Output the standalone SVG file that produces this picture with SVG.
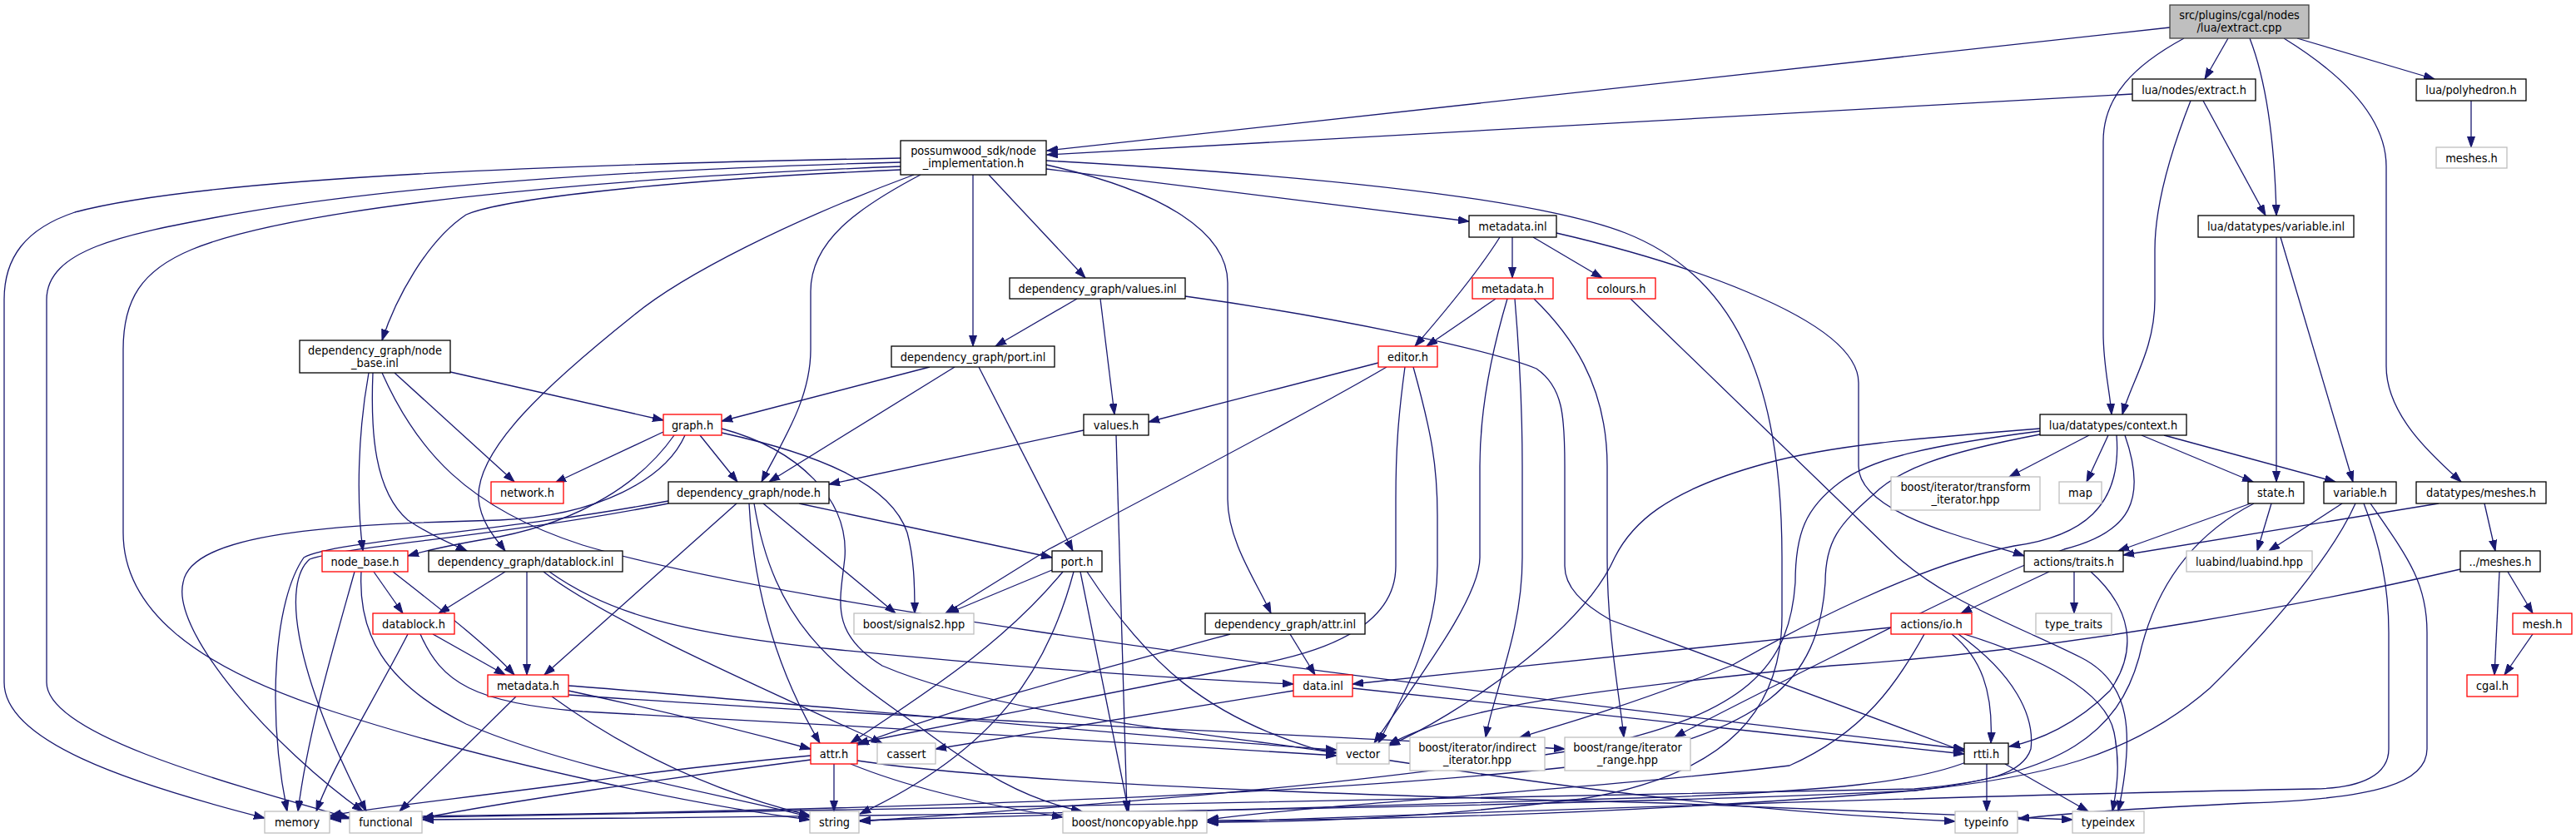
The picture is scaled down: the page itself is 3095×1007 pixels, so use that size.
<svg xmlns="http://www.w3.org/2000/svg" width="3095" height="1007" viewBox="0 0 3095 1007">
<defs>
<style>
.e{fill:none;stroke:#191970;stroke-width:1.3;marker-end:url(#arr)}
rect{fill:#fff;stroke:#000;stroke-width:1.3}
.red rect{stroke:#ff0000}
.ext rect{stroke:#bfbfbf}
.root rect{fill:#bfbfbf;stroke:#404040}
text{font-family:"DejaVu Sans Condensed","DejaVu Sans",sans-serif;font-stretch:condensed;font-size:14.4px;text-anchor:middle;fill:#000}
</style>
<marker id="arr" markerUnits="userSpaceOnUse" markerWidth="14" markerHeight="10" refX="13" refY="5" orient="auto" viewBox="0 0 14 10"><path d="M0,0.5 L13,5 L0,9.5z" fill="#191970" stroke="#191970"/></marker>
</defs>
<rect x="0" y="0" width="3095" height="1007" style="fill:#fff;stroke:none"/>
<g id="edges">
<path class="e" d="M2607,33 L1258,181"/>
<path class="e" d="M2677,46 L2649,95"/>
<path class="e" d="M2703,46 C2722,95 2733,170 2735,259"/>
<path class="e" d="M2624,46 C2565,78 2527,115 2527,170 L2527,400 C2527,440 2535,470 2537,498"/>
<path class="e" d="M2744,46 C2812,88 2867,140 2867,200 L2867,440 C2867,500 2925,550 2957,579"/>
<path class="e" d="M2760,46 L2925,95"/>
<path class="e" d="M2562,113 L1258,186"/>
<path class="e" d="M2632,121 C2605,190 2589,250 2589,300 L2589,360 C2589,420 2560,460 2550,498"/>
<path class="e" d="M2647,121 L2722,259"/>
<path class="e" d="M2969,121 L2969,177"/>
<path class="e" d="M1082,190 C700,197 250,212 90,255 C30,275 5,310 5,360 L5,820 C5,890 150,940 318,983"/>
<path class="e" d="M1082,195 C750,204 450,225 255,262 C150,282 56,300 56,360 L56,820 C56,880 250,935 420,983"/>
<path class="e" d="M1082,200 C700,215 350,250 230,300 C170,325 148,360 148,420 L148,640 C148,730 230,800 400,855 C600,920 850,970 973,985"/>
<path class="e" d="M1082,204 C800,216 600,240 560,258 C512,290 475,360 459,409"/>
<path class="e" d="M1098,210 C950,265 820,330 760,380 C660,460 571,540 575,600 C578,630 598,650 607,662"/>
<path class="e" d="M1106,210 C1030,250 974,290 974,350 L974,420 C974,480 940,530 915,579"/>
<path class="e" d="M1169,210 L1169,416"/>
<path class="e" d="M1188,210 L1304,334"/>
<path class="e" d="M1257,198 C1400,230 1475,280 1475,340 L1475,600 C1475,650 1510,700 1527,737"/>
<path class="e" d="M1257,203 L1765,266"/>
<path class="e" d="M1257,193 C1600,212 1850,240 1953,280 C2080,330 2141,450 2141,670 L2141,740 C2141,850 2080,930 1900,960 C1700,985 1550,988 1450,988"/>
<path class="e" d="M1802,285 C1780,320 1740,370 1700,416"/>
<path class="e" d="M1817,285 L1817,334"/>
<path class="e" d="M1842,285 L1925,334"/>
<path class="e" d="M1870,280 C2000,310 2233,380 2233,460 L2233,560 C2233,620 2380,650 2432,668"/>
<path class="e" d="M2735,285 L2735,579"/>
<path class="e" d="M2740,285 L2827,579"/>
<path class="e" d="M1294,359 L1196,416"/>
<path class="e" d="M1322,359 L1339,498"/>
<path class="e" d="M1424,356 C1600,380 1790,420 1846,443 C1878,465 1880,500 1880,560 L1880,680 C1880,705 1900,725 1935,745 L2360,903"/>
<path class="e" d="M1797,359 L1714,416"/>
<path class="e" d="M1811,359 C1790,430 1778,500 1778,560 L1778,670 C1778,720 1700,820 1651,893"/>
<path class="e" d="M1820,359 C1826,430 1829,500 1829,560 L1829,670 C1829,760 1795,830 1785,886"/>
<path class="e" d="M1843,359 C1885,400 1931,460 1931,560 L1931,670 C1931,760 1945,830 1951,886"/>
<path class="e" d="M1959,359 L2270,660 C2330,720 2420,750 2500,790 C2560,820 2565,880 2545,975"/>
<path class="e" d="M541,447 L797,505"/>
<path class="e" d="M474,448 L618,579"/>
<path class="e" d="M443,448 C430,520 428,600 436,662"/>
<path class="e" d="M448,448 C445,520 450,590 490,625 C520,645 545,655 561,662"/>
<path class="e" d="M459,448 C500,540 560,610 700,655 C900,715 1400,790 2360,900"/>
<path class="e" d="M1117,441 L867,506"/>
<path class="e" d="M1147,441 L924,579"/>
<path class="e" d="M1176,441 L1289,662"/>
<path class="e" d="M1656,436 L1380,507"/>
<path class="e" d="M1666,441 C1600,480 1450,560 1260,660 L1136,737"/>
<path class="e" d="M1688,441 C1680,500 1677,540 1677,600 L1677,680 C1677,740 1620,780 1500,800 L1030,893"/>
<path class="e" d="M1698,441 C1720,520 1727,560 1727,620 L1727,680 C1727,760 1690,830 1656,893"/>
<path class="e" d="M841,523 L886,579"/>
<path class="e" d="M797,519 L667,580"/>
<path class="e" d="M810,523 C770,580 700,625 600,645 C540,655 510,662 490,668"/>
<path class="e" d="M823,523 C800,575 720,620 600,625 C400,630 230,640 220,700 C205,760 330,900 436,975"/>
<path class="e" d="M867,520 C980,545 1070,580 1090,640 C1098,670 1099,700 1099,737"/>
<path class="e" d="M867,515 C960,540 1020,600 1015,670 C1010,720 995,760 1060,800 C1200,860 1450,880 1606,905"/>
<path class="e" d="M1302,517 L996,582"/>
<path class="e" d="M1341,523 L1354,975"/>
<path class="e" d="M2510,523 L2414,573"/>
<path class="e" d="M2533,523 L2507,579"/>
<path class="e" d="M2573,523 L2707,579"/>
<path class="e" d="M2600,523 L2806,579"/>
<path class="e" d="M2543,523 C2550,610 2500,645 2420,656 C2300,680 2150,760 2080,800 C1950,850 1880,870 1826,886"/>
<path class="e" d="M2553,523 C2580,600 2560,640 2480,660 C2400,690 2300,740 2200,790 C2100,840 2040,870 2012,886"/>
<path class="e" d="M2451,515 C2300,527 2200,535 2121,557 C2000,590 1960,630 1940,670 C1900,760 1750,860 1669,896"/>
<path class="e" d="M2451,518 C2320,535 2250,550 2210,580 C2170,610 2157,640 2157,700 C2150,800 2100,860 1900,900 C1600,950 1200,975 1033,987"/>
<path class="e" d="M2451,522 C2330,545 2280,565 2250,595 C2210,630 2193,650 2193,700 C2185,820 2120,880 1900,920 C1500,965 800,978 397,982"/>
<path class="e" d="M2704,605 L2545,662"/>
<path class="e" d="M2729,605 L2712,662"/>
<path class="e" d="M2708,605 C2640,640 2590,700 2570,790 C2545,880 2480,930 2300,950 C2000,975 1700,985 1450,986"/>
<path class="e" d="M2814,605 L2726,662"/>
<path class="e" d="M2830,605 C2810,650 2757,727 2655,827 C2560,910 2450,935 2300,950 C1900,970 1000,982 508,985"/>
<path class="e" d="M2840,605 C2858,650 2870,700 2870,760 L2870,900 C2870,930 2840,947 2780,948 C2400,955 1800,975 1451,988"/>
<path class="e" d="M2848,605 C2893,670 2916,700 2916,760 L2916,900 C2916,940 2858,960 2700,965 C2600,970 2500,975 2425,984"/>
<path class="e" d="M2387,918 L2387,975"/>
<path class="e" d="M2409,918 L2509,975"/>
<path class="e" d="M2362,916 C2300,940 2200,950 2000,958 C1600,970 1200,980 1033,986"/>
<path class="e" d="M2272,754 L1625,822"/>
<path class="e" d="M2345,762 C2380,790 2395,830 2392,893"/>
<path class="e" d="M2360,762 C2450,790 2530,830 2540,880 C2548,920 2543,950 2538,975"/>
<path class="e" d="M2353,762 C2420,810 2445,860 2440,900 C2430,930 2390,940 2300,948 C1800,960 900,975 397,984"/>
<path class="e" d="M2312,762 C2280,820 2240,880 2150,920 C1900,950 1600,965 1451,985"/>
<path class="e" d="M2462,687 L2356,737"/>
<path class="e" d="M2492,687 L2492,737"/>
<path class="e" d="M2512,687 C2560,730 2570,780 2535,830 C2495,870 2450,890 2414,897"/>
<path class="e" d="M2930,605 L2551,667"/>
<path class="e" d="M2985,605 L2998,662"/>
<path class="e" d="M2956,684 C2800,720 2500,780 2200,800 C1900,830 1750,850 1668,895"/>
<path class="e" d="M3003,687 L2997,811"/>
<path class="e" d="M3013,687 L3043,737"/>
<path class="e" d="M3043,762 L3009,811"/>
<path class="e" d="M1554,830 L1124,900"/>
<path class="e" d="M1625,827 L2360,906"/>
<path class="e" d="M1550,762 L1580,811"/>
<path class="e" d="M1478,762 C1300,810 1150,850 1031,895"/>
<path class="e" d="M1002,918 L1002,975"/>
<path class="e" d="M1022,918 C1100,950 1200,970 1277,982"/>
<path class="e" d="M974,908 C900,915 800,925 700,940 C550,960 450,970 397,980"/>
<path class="e" d="M974,913 C800,935 600,965 508,983"/>
<path class="e" d="M1030,914 C1200,940 1580,955 2000,965 L2490,985"/>
<path class="e" d="M1264,685 L1139,737"/>
<path class="e" d="M1277,687 C1200,780 1100,840 1022,893"/>
<path class="e" d="M1290,687 C1260,800 1200,900 1033,978"/>
<path class="e" d="M1298,687 L1356,975"/>
<path class="e" d="M1306,687 C1380,800 1450,860 1580,900 C1900,950 2100,975 2349,987"/>
<path class="e" d="M885,605 L654,811"/>
<path class="e" d="M900,605 C905,700 930,800 985,893"/>
<path class="e" d="M906,605 C930,750 1000,800 1100,870 C1180,930 1230,960 1300,975"/>
<path class="e" d="M917,605 L1076,737"/>
<path class="e" d="M960,605 L1264,670"/>
<path class="e" d="M803,602 C600,640 400,650 365,670 C330,720 320,850 345,975"/>
<path class="e" d="M803,605 C600,645 420,655 372,672 C340,700 350,800 440,975"/>
<path class="e" d="M426,687 C400,780 370,880 358,975"/>
<path class="e" d="M449,687 L484,737"/>
<path class="e" d="M472,687 C540,740 590,780 618,811"/>
<path class="e" d="M434,687 C430,760 460,820 560,870 C700,930 900,960 973,982"/>
<path class="e" d="M607,687 L527,737"/>
<path class="e" d="M633,687 L633,811"/>
<path class="e" d="M653,687 C720,740 900,820 1060,893"/>
<path class="e" d="M660,687 C720,730 800,760 1000,780 C1200,800 1400,815 1554,822"/>
<path class="e" d="M520,762 L607,811"/>
<path class="e" d="M490,762 C450,840 400,920 380,975"/>
<path class="e" d="M505,762 C530,820 570,845 700,855 C1000,870 1400,895 1606,908"/>
<path class="e" d="M620,837 L480,975"/>
<path class="e" d="M683,824 C900,840 1300,880 1606,901"/>
<path class="e" d="M683,830 C800,855 900,880 974,900"/>
<path class="e" d="M683,835 C1000,858 1500,880 1880,900"/>
<path class="e" d="M663,837 C750,900 850,950 973,980"/>
</g>
<g id="n_root" class="root"><rect x="2607" y="6" width="167" height="40"/><text x="2690.5" y="22.5">src/plugins/cgal/nodes</text><text x="2690.5" y="37.5">/lua/extract.cpp</text></g>
<g id="n_extract_h"><rect x="2562" y="95" width="148" height="26"/><text x="2636" y="113">lua/nodes/extract.h</text></g>
<g id="n_polyhedron"><rect x="2903" y="95" width="132" height="26"/><text x="2969" y="113">lua/polyhedron.h</text></g>
<g id="n_node_impl"><rect x="1082" y="169" width="175" height="41"/><text x="1169.5" y="186">possumwood_sdk/node</text><text x="1169.5" y="201">_implementation.h</text></g>
<g id="n_meshes_ext" class="ext"><rect x="2927" y="177" width="85" height="25"/><text x="2969.5" y="194.5">meshes.h</text></g>
<g id="n_metadata_inl"><rect x="1765" y="259" width="105" height="26"/><text x="1817.5" y="277">metadata.inl</text></g>
<g id="n_variable_inl"><rect x="2641" y="259" width="187" height="26"/><text x="2734.5" y="277">lua/datatypes/variable.inl</text></g>
<g id="n_values_inl"><rect x="1213" y="334" width="211" height="25"/><text x="1318.5" y="351.5">dependency_graph/values.inl</text></g>
<g id="n_metadata_h1" class="red"><rect x="1769" y="334" width="97" height="25"/><text x="1817.5" y="351.5">metadata.h</text></g>
<g id="n_colours_h" class="red"><rect x="1907" y="334" width="82" height="25"/><text x="1948" y="351.5">colours.h</text></g>
<g id="n_node_base_inl"><rect x="360" y="409" width="181" height="39"/><text x="450.5" y="425.5">dependency_graph/node</text><text x="450.5" y="440.5">_base.inl</text></g>
<g id="n_port_inl"><rect x="1071" y="416" width="196" height="25"/><text x="1169" y="433.5">dependency_graph/port.inl</text></g>
<g id="n_editor_h" class="red"><rect x="1656" y="416" width="71" height="25"/><text x="1691.5" y="433.5">editor.h</text></g>
<g id="n_graph_h" class="red"><rect x="797" y="498" width="70" height="25"/><text x="832" y="515.5">graph.h</text></g>
<g id="n_values_h"><rect x="1302" y="498" width="78" height="25"/><text x="1341" y="515.5">values.h</text></g>
<g id="n_context_h"><rect x="2451" y="498" width="176" height="25"/><text x="2539" y="515.5">lua/datatypes/context.h</text></g>
<g id="n_network_h" class="red"><rect x="590" y="579" width="87" height="26"/><text x="633.5" y="597">network.h</text></g>
<g id="n_node_h"><rect x="803" y="579" width="193" height="26"/><text x="899.5" y="597">dependency_graph/node.h</text></g>
<g id="n_transform_it" class="ext"><rect x="2272" y="573" width="179" height="40"/><text x="2361.5" y="589.5">boost/iterator/transform</text><text x="2361.5" y="604.5">_iterator.hpp</text></g>
<g id="n_map" class="ext"><rect x="2474" y="579" width="51" height="26"/><text x="2499.5" y="597">map</text></g>
<g id="n_state_h"><rect x="2701" y="579" width="67" height="26"/><text x="2734.5" y="597">state.h</text></g>
<g id="n_variable_h"><rect x="2792" y="579" width="87" height="26"/><text x="2835.5" y="597">variable.h</text></g>
<g id="n_dt_meshes_h"><rect x="2903" y="579" width="156" height="26"/><text x="2981" y="597">datatypes/meshes.h</text></g>
<g id="n_node_base_h" class="red"><rect x="387" y="662" width="103" height="25"/><text x="438.5" y="679.5">node_base.h</text></g>
<g id="n_datablock_inl"><rect x="515" y="662" width="233" height="25"/><text x="631.5" y="679.5">dependency_graph/datablock.inl</text></g>
<g id="n_port_h"><rect x="1264" y="662" width="60" height="25"/><text x="1294" y="679.5">port.h</text></g>
<g id="n_traits_h"><rect x="2432" y="662" width="119" height="25"/><text x="2491.5" y="679.5">actions/traits.h</text></g>
<g id="n_luabind" class="ext"><rect x="2627" y="662" width="151" height="25"/><text x="2702.5" y="679.5">luabind/luabind.hpp</text></g>
<g id="n_dmeshes_h"><rect x="2956" y="662" width="96" height="25"/><text x="3004" y="679.5">../meshes.h</text></g>
<g id="n_datablock_h" class="red"><rect x="448" y="737" width="98" height="25"/><text x="497" y="754.5">datablock.h</text></g>
<g id="n_signals2" class="ext"><rect x="1026" y="737" width="144" height="25"/><text x="1098" y="754.5">boost/signals2.hpp</text></g>
<g id="n_attr_inl"><rect x="1448" y="737" width="192" height="25"/><text x="1544" y="754.5">dependency_graph/attr.inl</text></g>
<g id="n_io_h" class="red"><rect x="2272" y="737" width="97" height="25"/><text x="2320.5" y="754.5">actions/io.h</text></g>
<g id="n_type_traits" class="ext"><rect x="2446" y="737" width="91" height="25"/><text x="2491.5" y="754.5">type_traits</text></g>
<g id="n_mesh_h" class="red"><rect x="3019" y="737" width="71" height="25"/><text x="3054.5" y="754.5">mesh.h</text></g>
<g id="n_metadata_h2" class="red"><rect x="586" y="811" width="97" height="26"/><text x="634.5" y="829">metadata.h</text></g>
<g id="n_data_inl" class="red"><rect x="1554" y="811" width="71" height="26"/><text x="1589.5" y="829">data.inl</text></g>
<g id="n_cgal_h" class="red"><rect x="2964" y="811" width="61" height="26"/><text x="2994.5" y="829">cgal.h</text></g>
<g id="n_attr_h" class="red"><rect x="974" y="893" width="56" height="25"/><text x="1002" y="910.5">attr.h</text></g>
<g id="n_cassert" class="ext"><rect x="1054" y="893" width="70" height="25"/><text x="1089" y="910.5">cassert</text></g>
<g id="n_vector" class="ext"><rect x="1606" y="893" width="63" height="25"/><text x="1637.5" y="910.5">vector</text></g>
<g id="n_indirect_it" class="ext"><rect x="1694" y="886" width="162" height="40"/><text x="1775" y="902.5">boost/iterator/indirect</text><text x="1775" y="917.5">_iterator.hpp</text></g>
<g id="n_iterator_range" class="ext"><rect x="1880" y="886" width="151" height="40"/><text x="1955.5" y="902.5">boost/range/iterator</text><text x="1955.5" y="917.5">_range.hpp</text></g>
<g id="n_rtti_h"><rect x="2360" y="893" width="53" height="25"/><text x="2386.5" y="910.5">rtti.h</text></g>
<g id="n_memory" class="ext"><rect x="318" y="975" width="78" height="26"/><text x="357" y="993">memory</text></g>
<g id="n_functional" class="ext"><rect x="420" y="975" width="87" height="26"/><text x="463.5" y="993">functional</text></g>
<g id="n_string" class="ext"><rect x="973" y="975" width="59" height="26"/><text x="1002.5" y="993">string</text></g>
<g id="n_noncopyable" class="ext"><rect x="1277" y="975" width="173" height="26"/><text x="1363.5" y="993">boost/noncopyable.hpp</text></g>
<g id="n_typeinfo" class="ext"><rect x="2349" y="975" width="75" height="26"/><text x="2386.5" y="993">typeinfo</text></g>
<g id="n_typeindex" class="ext"><rect x="2490" y="975" width="86" height="26"/><text x="2533" y="993">typeindex</text></g>
</svg>
